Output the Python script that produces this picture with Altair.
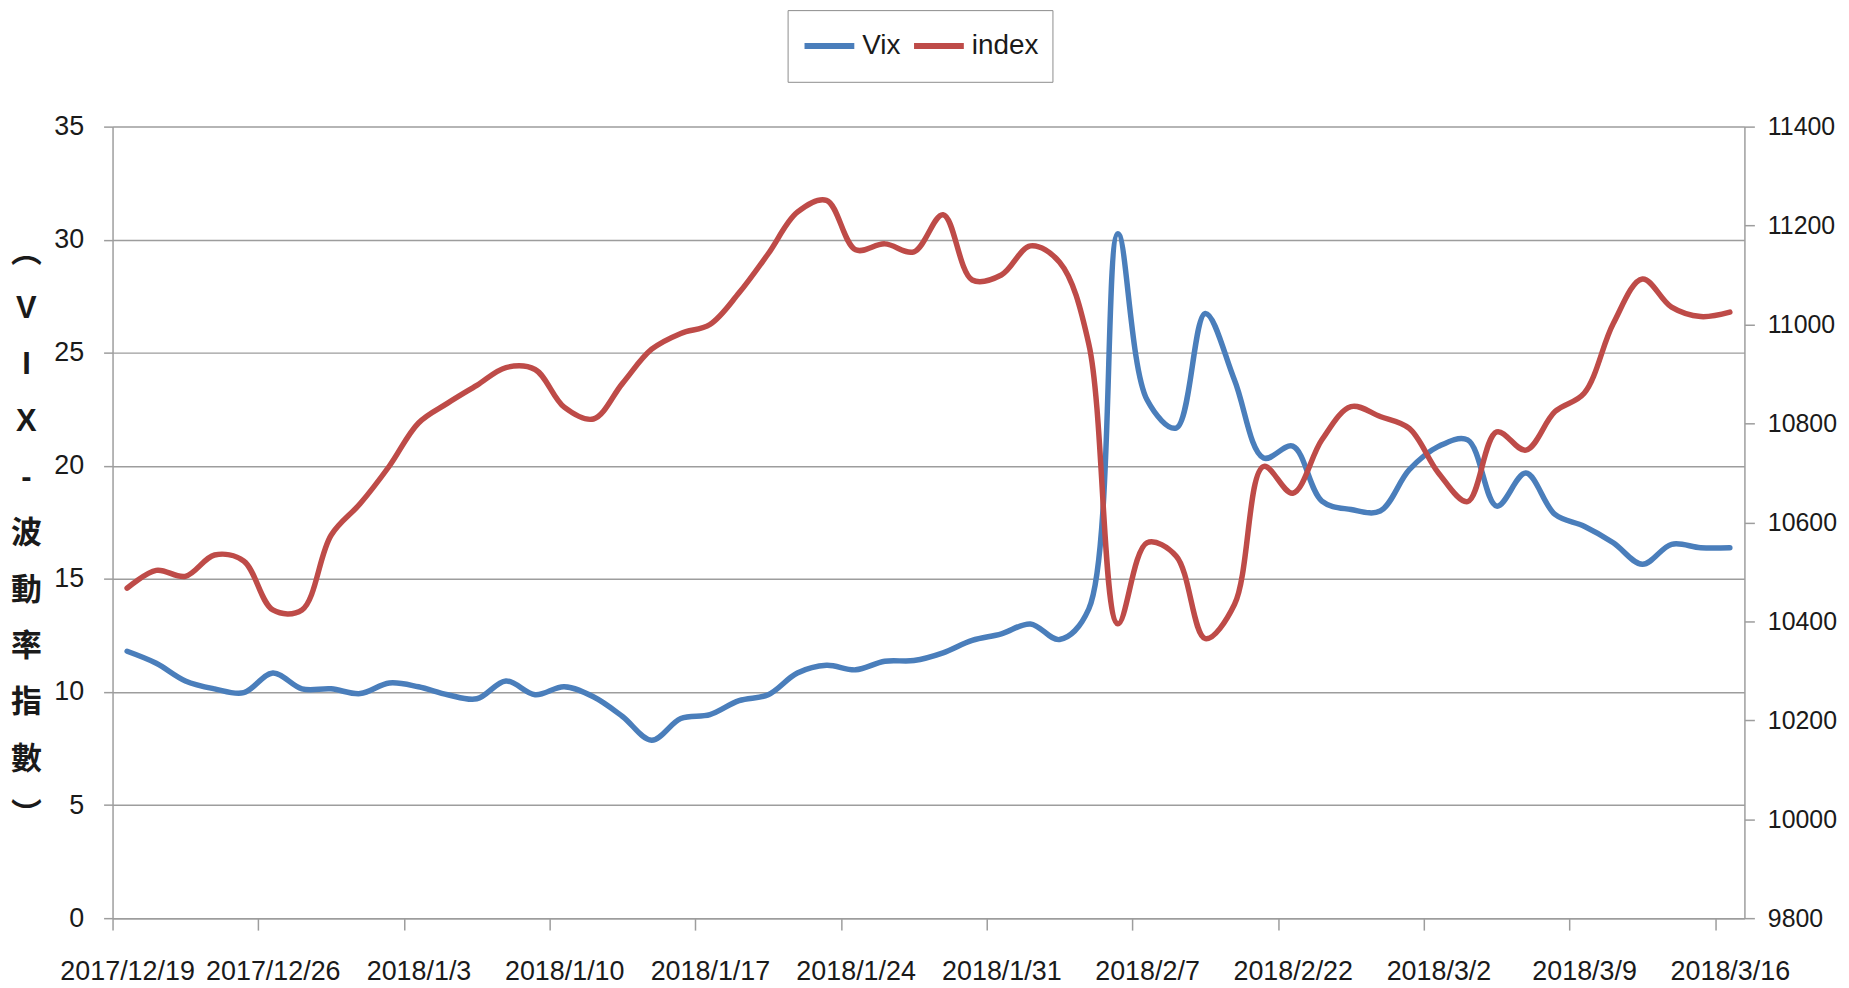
import altair as alt
import pandas as pd

# ---------------- data ----------------
dates = ["2017/12/19", "2017/12/20", "2017/12/21", "2017/12/22", "2017/12/25",
         "2017/12/26", "2017/12/27", "2017/12/28", "2017/12/29", "2018/1/2",
         "2018/1/3", "2018/1/4", "2018/1/5", "2018/1/8", "2018/1/9",
         "2018/1/10", "2018/1/11", "2018/1/12", "2018/1/15", "2018/1/16",
         "2018/1/17", "2018/1/18", "2018/1/19", "2018/1/22", "2018/1/23",
         "2018/1/24", "2018/1/25", "2018/1/26", "2018/1/29", "2018/1/30",
         "2018/1/31", "2018/2/1", "2018/2/2", "2018/2/5", "2018/2/6",
         "2018/2/7", "2018/2/8", "2018/2/9", "2018/2/12", "2018/2/21",
         "2018/2/22", "2018/2/23", "2018/2/26", "2018/2/27", "2018/3/1",
         "2018/3/2", "2018/3/5", "2018/3/6", "2018/3/7", "2018/3/8",
         "2018/3/9", "2018/3/12", "2018/3/13", "2018/3/14", "2018/3/15",
         "2018/3/16"]

vix = [11.80, 11.27, 10.49, 10.14, 9.97, 10.84, 10.14, 10.14, 9.93, 10.40,
       10.23, 9.88, 9.70, 10.49, 9.88, 10.23, 9.79, 8.92, 7.87, 8.83,
       9.00, 9.62, 9.88, 10.84, 11.18, 10.98, 11.36, 11.39, 11.73, 12.28,
       12.57, 13.01, 12.32, 13.67, 30.26, 22.92, 21.67, 26.74, 23.80, 20.35,
       20.87, 18.44, 18.07, 18.00, 19.83, 20.86, 21.15, 18.22, 19.68, 17.85,
       17.33, 16.60, 15.65, 16.53, 16.38, 16.38]

index_vals = [10467, 10503, 10491, 10534, 10522, 10423, 10423, 10574, 10638, 10714,
              10801, 10841, 10877, 10913, 10909, 10833, 10809, 10881, 10950, 10982,
              11000, 11064, 11143, 11227, 11251, 11151, 11163, 11147, 11222, 11090,
              11100, 11159, 11126, 10961, 10395, 10559, 10532, 10365, 10434, 10713,
              10659, 10767, 10834, 10814, 10790, 10700, 10642, 10783, 10746, 10824,
              10861, 11002, 11092, 11035, 11016, 11025]

series_names = ["Vix", "index"]
series_colors = ["#4A7EBB", "#BE4B48"]
left_ticks = [0, 5, 10, 15, 20, 25, 30, 35]
right_ticks = [9800, 10000, 10200, 10400, 10600, 10800, 11000, 11200, 11400]
y_title = ["︵", "V", "I", "X", "-", "波", "動", "率", "指", "數", "︶"]

# ---------------- layout ----------------
n = len(dates)
W, H = 1639, 795
band = W / n
tick_vals = [i - 0.5 for i in range(0, n, 5)]
label_list = [dates[i] for i in range(0, n, 5)]
label_expr = "[" + ",".join("'%s'" % d for d in label_list) + "][round((datum.value + 0.5) / 5)]"

FONT = "Liberation Sans, Arial, sans-serif"
TITLE_FONT = "Liberation Sans, Noto Sans CJK TC, sans-serif"
GRAY = "#9d9d9d"
TXT = "#1a1a1a"

df = pd.DataFrame({"i": list(range(n)), "date": dates, "Vix": vix, "index": index_vals})

x_enc = alt.X(
    "i:Q",
    scale=alt.Scale(domain=[-0.5, n - 0.5], nice=False, zero=False),
    axis=alt.Axis(
        values=tick_vals, labelExpr=label_expr, labelOffset=band / 2,
        labelFlush=False, labelOverlap=False, grid=False, title=None,
        domainColor=GRAY, domainWidth=1.5, tickColor=GRAY, tickWidth=1.5,
        tickSize=12, labelFont=FONT, labelFontSize=27, labelColor=TXT,
        labelPadding=29,
    ),
)

color_enc = alt.Color(
    "series:N",
    scale=alt.Scale(domain=series_names, range=series_colors),
    legend=alt.Legend(
        title=None, orient="none", legendX=678, legendY=-117,
        direction="horizontal", symbolType="stroke", symbolSize=2500,
        symbolStrokeWidth=6, labelFont=FONT, labelFontSize=28,
        labelColor=TXT, labelOffset=5, columnPadding=10, padding=14,
        strokeColor="#8c8c8c", fillColor="white", clipHeight=44,
    ),
)

line_kw = dict(interpolate="catmull-rom", strokeWidth=5.5,
               strokeCap="round", strokeJoin="round")

vix_line = alt.Chart(df).transform_calculate(series="'Vix'").mark_line(**line_kw).encode(
    x=x_enc,
    y=alt.Y(
        "Vix:Q",
        scale=alt.Scale(domain=[0, 35], nice=False, zero=True),
        axis=alt.Axis(
            values=left_ticks, grid=True, gridColor=GRAY, gridWidth=1.5,
            domainColor=GRAY, domainWidth=1.5, tickColor=GRAY, tickWidth=1.5,
            tickSize=9, labelFont=FONT, labelFontSize=27, labelColor=TXT,
            labelPadding=20,
            title=y_title, titleAngle=0, titleX=-87, titleY=126,
            titleAlign="center", titleBaseline="middle", titleLineHeight=56.6,
            titleFont=TITLE_FONT, titleFontSize=31, titleFontWeight="bold",
            titleColor=TXT,
        ),
    ),
    color=color_enc,
)

idx_line = alt.Chart(df).transform_calculate(series="'index'").mark_line(**line_kw).encode(
    x=x_enc,
    y=alt.Y(
        "index:Q",
        scale=alt.Scale(domain=[9800, 11400], nice=False, zero=False),
        axis=alt.Axis(
            orient="right", values=right_ticks, format="d", grid=False, title=None,
            domainColor=GRAY, domainWidth=1.5, tickColor=GRAY, tickWidth=1.5,
            tickSize=10, labelFont=FONT, labelFontSize=25, labelColor=TXT,
            labelAlign="left", labelPadding=13,
        ),
    ),
    color=color_enc,
)

chart = alt.layer(vix_line, idx_line).resolve_scale(y="independent").properties(
    width=W, height=H,
    autosize=alt.AutoSizeParams(type="none"),
    padding={"left": 105, "top": 117, "right": 97, "bottom": 66},
    background="white",
).configure_view(stroke=None)

chart.save("out.html", embed_options={"renderer": "svg", "actions": False})
